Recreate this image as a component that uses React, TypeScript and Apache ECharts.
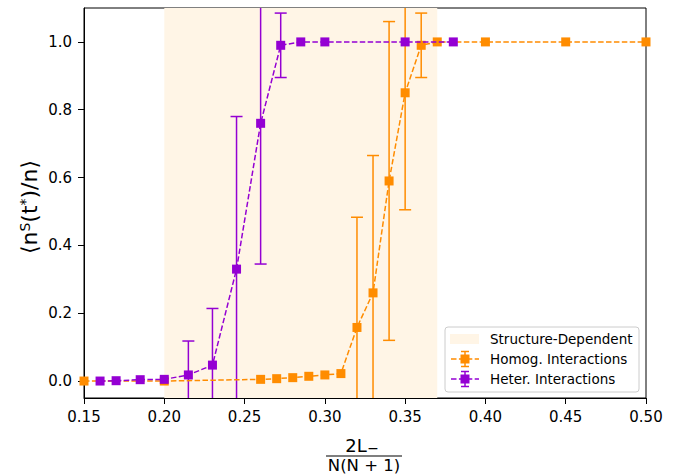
import React, { useEffect, useRef } from "react";
import * as echarts from "echarts";

const homogX = [0.15, 0.2, 0.26, 0.27, 0.28, 0.29, 0.3, 0.31, 0.32, 0.33, 0.34, 0.35, 0.36, 0.37, 0.4, 0.45, 0.5];
const homogY = [0.0, 0.0, 0.005, 0.007, 0.01, 0.014, 0.018, 0.022, 0.158, 0.26, 0.59, 0.85, 0.99, 1.0, 1.0, 1.0, 1.0];
const homogErr = [0, 0, 0, 0, 0, 0, 0, 0, 0.325, 0.405, 0.47, 0.345, 0.095, 0, 0, 0, 0];

const heterX = [0.16, 0.17, 0.185, 0.2, 0.215, 0.23, 0.245, 0.26, 0.2725, 0.285, 0.3, 0.35, 0.38];
const heterY = [0.0, 0.001, 0.004, 0.005, 0.018, 0.047, 0.33, 0.76, 0.99, 1.0, 1.0, 1.0, 1.0];
const heterErr = [0, 0, 0, 0, 0.1, 0.167, 0.45, 0.415, 0.095, 0, 0, 0, 0];

const xTicks = [0.15, 0.2, 0.25, 0.3, 0.35, 0.4, 0.45, 0.5];
const yTicks = [0, 0.2, 0.4, 0.6, 0.8, 1.0];
const shadeRange = [0.2, 0.37];

const ORANGE = "#ff8c00";
const PURPLE = "#9400d3";
const SHADE = "#fff5e6";
const FONT = "DejaVu Sans";

function errSeries(xs: number[], ys: number[], es: number[], color: string) {
  return {
    type: "custom",
    clip: true,
    z: 3,
    data: xs.map((x, i) => [x, ys[i], es[i]]),
    renderItem: (params: any, api: any) => {
      const x = api.value(0);
      const y = api.value(1);
      const e = api.value(2);
      if (!e) return null;
      const top = api.coord([x, y + e]);
      const bot = api.coord([x, y - e]);
      const hw = 6;
      const style = { stroke: color, lineWidth: 1.5 };
      return {
        type: "group",
        children: [
          { type: "line", shape: { x1: top[0], y1: top[1], x2: bot[0], y2: bot[1] }, style },
          { type: "line", shape: { x1: top[0] - hw, y1: top[1], x2: top[0] + hw, y2: top[1] }, style },
          { type: "line", shape: { x1: bot[0] - hw, y1: bot[1], x2: bot[0] + hw, y2: bot[1] }, style },
        ],
      };
    },
  };
}

function lineSeries(name: string, xs: number[], ys: number[], color: string, z: number) {
  return {
    name,
    type: "line",
    z,
    data: xs.map((x, i) => [x, ys[i]]),
    symbol: "rect",
    symbolSize: 9,
    showSymbol: true,
    itemStyle: { color },
    lineStyle: { color, width: 1.5, type: [5.5, 2.4] },
  };
}

function legendRow(y: number, color: string, label: string) {
  const lx = 465;
  return [
    { type: "line", shape: { x1: 451, y1: y, x2: 479, y2: y }, style: { stroke: color, lineWidth: 1.5, lineDash: [5.5, 2.4] } },
    { type: "line", shape: { x1: lx, y1: y - 7.5, x2: lx, y2: y + 7.5 }, style: { stroke: color, lineWidth: 1.5 } },
    { type: "line", shape: { x1: lx - 4, y1: y - 7.5, x2: lx + 4, y2: y - 7.5 }, style: { stroke: color, lineWidth: 1.5 } },
    { type: "line", shape: { x1: lx - 4, y1: y + 7.5, x2: lx + 4, y2: y + 7.5 }, style: { stroke: color, lineWidth: 1.5 } },
    { type: "rect", shape: { x: lx - 4.5, y: y - 4.5, width: 9, height: 9 }, style: { fill: color } },
    { type: "text", x: 490, y, style: { text: label, fill: "#000", font: `13.5px '${FONT}'`, verticalAlign: "middle", align: "left" } },
  ];
}

export default function App() {
  const ref = useRef<HTMLDivElement>(null);
  useEffect(() => {
    if (!ref.current) return;
    const chart = echarts.init(ref.current, undefined, { renderer: "svg" });
    const option: any = {
      animation: false,
      backgroundColor: "#fff",
      grid: { left: 84, right: 33, top: 8, bottom: 76, show: true, borderColor: "#000", borderWidth: 1, backgroundColor: "transparent" },
      xAxis: {
        type: "value",
        min: 0.15,
        max: 0.5,
        splitLine: { show: false },
        axisLine: { show: true, onZero: false, lineStyle: { color: "#000", width: 1 } },
        axisTick: { show: true, length: 6, lineStyle: { color: "#000" }, customValues: xTicks },
        axisLabel: {
          color: "#000",
          fontSize: 15,
          fontFamily: FONT,
          margin: 11,
          customValues: xTicks,
          formatter: (v: number) => v.toFixed(2),
        },
      },
      yAxis: {
        type: "value",
        min: -0.05,
        max: 1.1,
        splitLine: { show: false },
        axisLine: { show: true, onZero: false, lineStyle: { color: "#000", width: 1 } },
        axisTick: { show: true, length: 6, lineStyle: { color: "#000" }, customValues: yTicks },
        axisLabel: {
          color: "#000",
          fontSize: 15,
          fontFamily: FONT,
          margin: 12,
          customValues: yTicks,
          formatter: (v: number) => v.toFixed(1),
        },
      },
      series: [
        {
          type: "line",
          data: [],
          z: 0,
          markArea: {
            silent: true,
            itemStyle: { color: SHADE },
            data: [[{ xAxis: shadeRange[0] }, { xAxis: shadeRange[1] }]],
          },
        },
        errSeries(homogX, homogY, homogErr, ORANGE),
        lineSeries("Homog. Interactions", homogX, homogY, ORANGE, 4),
        errSeries(heterX, heterY, heterErr, PURPLE),
        lineSeries("Heter. Interactions", heterX, heterY, PURPLE, 6),
      ],
      graphic: [
        {
          type: "text",
          x: 29,
          y: 207,
          rotation: Math.PI / 2,
          style: {
            text: "{a|⟨n}{s|S}{a|(t}{s|*}{a|)/n⟩}",
            align: "center",
            verticalAlign: "middle",
            fill: "#000",
            rich: {
              a: { fontSize: 22, fontFamily: FONT, fill: "#000", lineHeight: 22, verticalAlign: "bottom" },
              s: { fontSize: 14, fontFamily: FONT, fill: "#000", lineHeight: 14, verticalAlign: "top" },
            },
          },
        },
        { type: "text", x: 356, y: 445, style: { text: "2L", font: `18px '${FONT}'`, fill: "#000", align: "center", verticalAlign: "middle" } },
        { type: "text", x: 373, y: 448, style: { text: "−", font: `14px '${FONT}'`, fill: "#000", align: "center", verticalAlign: "middle" } },
        { type: "line", shape: { x1: 326, y1: 456, x2: 402, y2: 456 }, style: { stroke: "#000", lineWidth: 1.2 } },
        { type: "text", x: 364, y: 465, style: { text: "N(N + 1)", font: `16.5px '${FONT}'`, lineHeight: 16, fill: "#000", align: "center", verticalAlign: "middle" } },
        {
          type: "group",
          z: 100,
          children: [
            { type: "rect", shape: { x: 445, y: 327, width: 194, height: 65, r: 3 }, style: { fill: "rgba(255,255,255,0.8)", stroke: "#cccccc", lineWidth: 1 } },
            { type: "rect", shape: { x: 450, y: 334, width: 29, height: 10 }, style: { fill: SHADE } },
            { type: "text", x: 490, y: 339, style: { text: "Structure-Dependent", fill: "#000", font: `13.5px '${FONT}'`, verticalAlign: "middle", align: "left" } },
            ...legendRow(359, ORANGE, "Homog. Interactions"),
            ...legendRow(379, PURPLE, "Heter. Interactions"),
          ],
        },
      ],
    };
    chart.setOption(option);
    return () => chart.dispose();
  }, []);
  return <div ref={ref} style={{ width: 679, height: 474, position: "absolute", left: 0, top: 0 }} />;
}
